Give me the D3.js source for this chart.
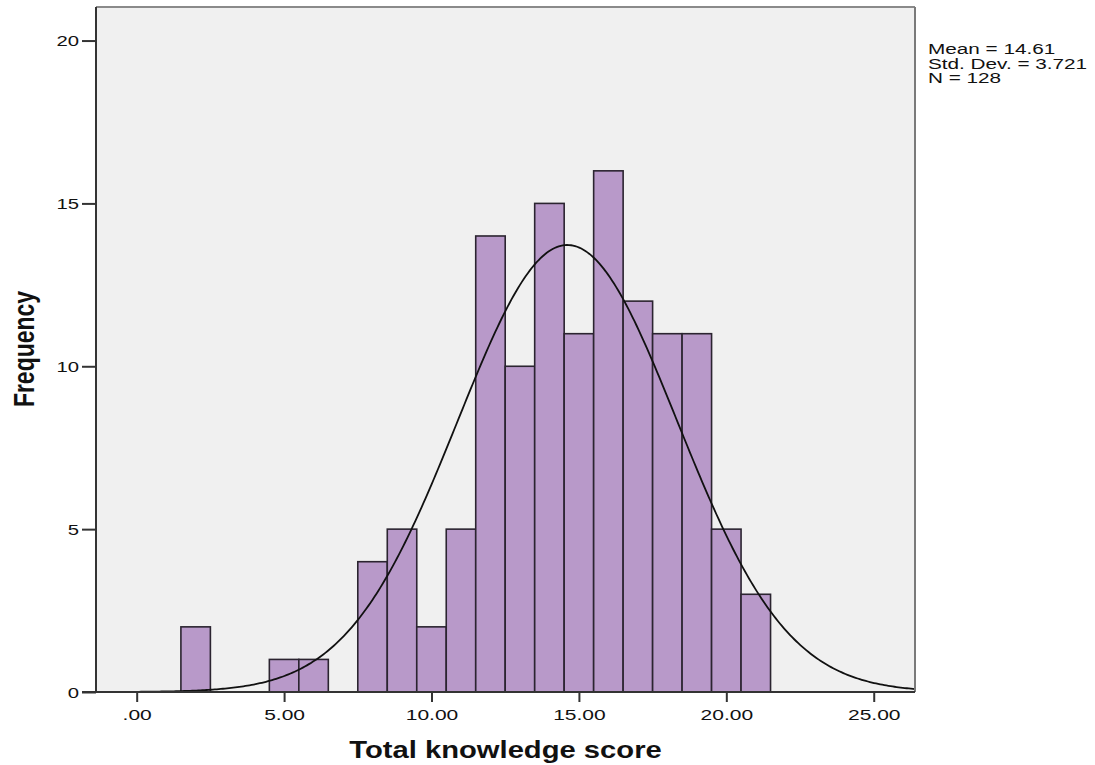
<!DOCTYPE html>
<html>
<head>
<meta charset="utf-8">
<script src="https://cdn.jsdelivr.net/npm/d3@7"></script>
<style>
  html, body { margin: 0; padding: 0; background: #fff; }
  svg { display: block; }
  text { font-family: "Liberation Sans", Arial, sans-serif; fill: #111; }
</style>
</head>
<body>
<svg id="chart" width="1095" height="765"></svg>
<script>
// Histogram of total knowledge score (bin width 1, centred on integers)
const binCenters  = [2, 5, 6, 8, 9, 10, 11, 12, 13, 14, 15, 16, 17, 18, 19, 20, 21];
const frequencies = [2, 1, 1, 4, 5, 2, 5, 14, 10, 15, 11, 16, 12, 11, 11, 5, 3];
const xTickValues = [0, 5, 10, 15, 20, 25];
const yTickValues = [0, 5, 10, 15, 20];
const statLabels  = ["Mean = 14.61", "Std. Dev. = 3.721", "N = 128"];
const meanValue = 14.61, sdValue = 3.721, nValue = 128, binWidth = 1;

const svg = d3.select("#chart");
const frame = { left: 96, right: 915, top: 7, bottom: 692 };

const x = d3.scaleLinear().domain([-1.38, 26.4]).range([frame.left, frame.right]);
const y = d3.scaleLinear().domain([0, 21.03]).range([frame.bottom, frame.top]);

// plot background
svg.append("rect")
  .attr("x", frame.left).attr("y", frame.top)
  .attr("width", frame.right - frame.left).attr("height", frame.bottom - frame.top)
  .attr("fill", "#f0f0f0");

// bars
svg.append("g").selectAll("rect")
  .data(binCenters.map((c, i) => ({ c, f: frequencies[i] })))
  .join("rect")
  .attr("x", d => x(d.c - binWidth / 2))
  .attr("y", d => y(d.f))
  .attr("width", d => x(d.c + binWidth / 2) - x(d.c - binWidth / 2))
  .attr("height", d => y(0) - y(d.f))
  .attr("fill", "#b899c9")
  .attr("stroke", "#2b2430")
  .attr("stroke-width", 1.6);

// fitted normal curve
const pdf = v => nValue * binWidth / (sdValue * Math.sqrt(2 * Math.PI)) *
  Math.exp(-0.5 * Math.pow((v - meanValue) / sdValue, 2));
const curvePts = d3.range(0, 401).map(i => {
  const v = x.domain()[0] + (x.domain()[1] - x.domain()[0]) * i / 400;
  return [v, pdf(v)];
});
svg.append("path")
  .datum(curvePts)
  .attr("fill", "none")
  .attr("stroke", "#111")
  .attr("stroke-width", 1.8)
  .attr("d", d3.line().x(d => x(d[0])).y(d => y(d[1])));

// frame: lighter top/right edges, dark axes
svg.append("line").attr("x1", frame.left).attr("x2", frame.right)
  .attr("y1", frame.top).attr("y2", frame.top)
  .attr("stroke", "#8a8a8a").attr("stroke-width", 2);
svg.append("line").attr("x1", frame.right).attr("x2", frame.right)
  .attr("y1", frame.top).attr("y2", frame.bottom)
  .attr("stroke", "#7a7a7a").attr("stroke-width", 2);

// y axis
const yAxis = svg.append("g").attr("transform", `translate(${frame.left},0)`)
  .call(d3.axisLeft(y).tickValues(yTickValues).tickSize(14).tickFormat(""));
yAxis.select(".domain").attr("stroke", "#333").attr("stroke-width", 2)
  .attr("d", `M0,${frame.top}V${frame.bottom}`);
yAxis.selectAll(".tick line").attr("stroke", "#333").attr("stroke-width", 2);
yAxis.selectAll(".tick").append("g")
  .attr("transform", "translate(-17,5) scale(1.45,1)")
  .append("text")
  .attr("text-anchor", "end")
  .attr("font-size", 14)
  .text(d => d3.format("d")(d));

// x axis
const xAxis = svg.append("g").attr("transform", `translate(0,${frame.bottom})`)
  .call(d3.axisBottom(x).tickValues(xTickValues).tickSize(10).tickFormat(""));
xAxis.select(".domain").attr("stroke", "#333").attr("stroke-width", 2)
  .attr("d", `M${frame.left - 14},0H${frame.right}`);
xAxis.selectAll(".tick line").attr("stroke", "#333").attr("stroke-width", 2);
xAxis.selectAll(".tick").append("g")
  .attr("transform", "translate(0,28) scale(1.5,1)")
  .append("text")
  .attr("text-anchor", "middle")
  .attr("font-size", 14)
  .text(d => d === 0 ? ".00" : d3.format(".2f")(d));

// axis titles
svg.append("g")
  .attr("transform", `translate(${(frame.left + frame.right) / 2},758) scale(1.27,1)`)
  .append("text")
  .attr("text-anchor", "middle")
  .attr("font-size", 23)
  .attr("font-weight", "bold")
  .text("Total knowledge score");

svg.append("g")
  .attr("transform", "translate(34,349) scale(1.3,1) rotate(-90)")
  .append("text")
  .attr("text-anchor", "middle")
  .attr("font-size", 23)
  .attr("font-weight", "bold")
  .text("Frequency");

// summary statistics
svg.append("g").selectAll("g")
  .data(statLabels)
  .join("g")
  .attr("transform", (d, i) => `translate(928,${54 + i * 14.5}) scale(1.48,1)`)
  .append("text")
  .attr("font-size", 14)
  .text(d => d);
</script>
</body>
</html>
